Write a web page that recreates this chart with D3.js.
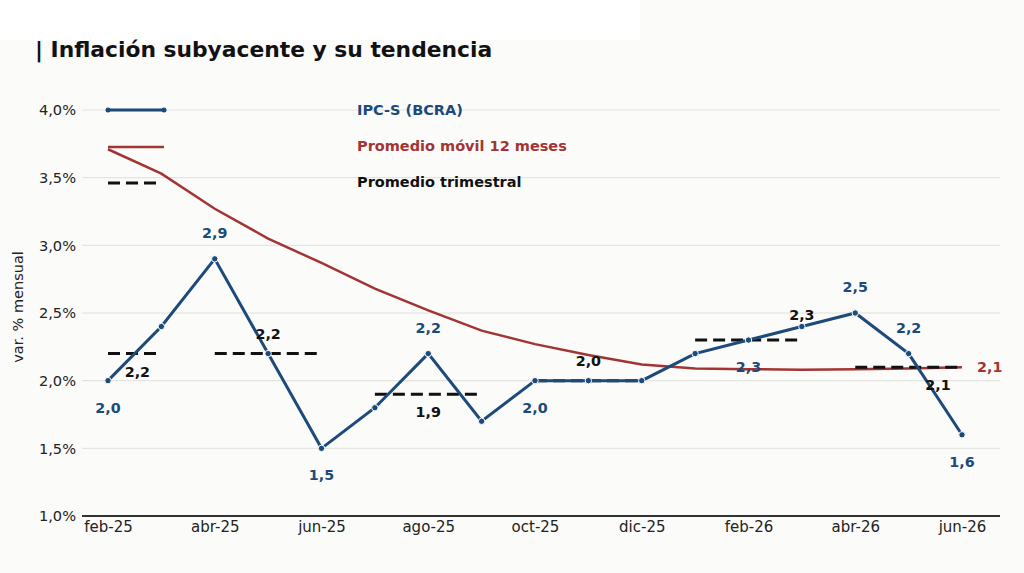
<!DOCTYPE html>
<html>
<head>
<meta charset="utf-8">
<script src="https://cdn.jsdelivr.net/npm/d3@7"></script>
<style>
  body { margin: 0; background: #fbfbf9; }
  svg { display: block; font-family: "DejaVu Sans", sans-serif; }
</style>
</head>
<body>
<svg id="chart" width="1024" height="573"></svg>
<script>
// months on the x axis
var months = ["feb-25","mar-25","abr-25","may-25","jun-25","jul-25","ago-25","sep-25","oct-25","nov-25","dic-25","ene-26","feb-26","mar-26","abr-26","may-26","jun-26"]
var tickMonths = ["feb-25","abr-25","jun-25","ago-25","oct-25","dic-25","feb-26","abr-26","jun-26"]
var yTicks = [1.0, 1.5, 2.0, 2.5, 3.0, 3.5, 4.0]

// IPC-S (BCRA), var. % mensual
var ipcs = [2.0, 2.4, 2.9, 2.2, 1.5, 1.8, 2.2, 1.7, 2.0, 2.0, 2.0, 2.2, 2.3, 2.4, 2.5, 2.2, 1.6]
// promedio movil 12 meses
var movil = [3.71, 3.53, 3.27, 3.05, 2.87, 2.68, 2.52, 2.37, 2.27, 2.19, 2.12, 2.09, 2.085, 2.08, 2.085, 2.09, 2.1]
// promedio trimestral: first and last month of each block, value
var trimStart = ["feb-25","abr-25","jul-25","oct-25","ene-26","abr-26"]
var trimEnd   = ["mar-25","jun-25","sep-25","dic-25","mar-26","jun-26"]
var trimVal   = [2.2, 2.2, 1.9, 2.0, 2.3, 2.1]

// which IPC-S points get a label, and on which side
var ipcsLabelMonths = ["feb-25","abr-25","jun-25","ago-25","oct-25","feb-26","abr-26","may-26","jun-26"]
var ipcsLabelSide   = ["below","above","below","above","below","below","above","above","below"]
// where each trimestral label is written
var trimLabelMonths = ["mar-25","may-25","ago-25","nov-25","mar-26","jun-26"]
var trimLabelSide   = ["belowleft","above","below","above","abovehigh","belowleft"]

var blue = "#1b4a7b"
var red = "#a33434"
var black = "#111111"

var svg = d3.select("#chart")
var fmt = function(v) { return d3.format(".1f")(v).replace(".", ",") }

var x = d3.scalePoint().domain(months).range([108, 962])
var y = d3.scaleLinear().domain([1, 4]).range([516, 110])

// white strip behind title
svg.append("rect").attr("x", 0).attr("y", 0).attr("width", 640).attr("height", 40).attr("fill", "#ffffff")

svg.append("text")
    .attr("x", 35).attr("y", 57)
    .style("font-size", "21.8px").style("font-weight", "bold").attr("fill", black)
    .text("| Inflación subyacente y su tendencia")

// grid
svg.append("g").selectAll("line")
    .data(yTicks.slice(1))
    .enter().append("line")
    .attr("x1", 82).attr("x2", 1000)
    .attr("y1", function(d) { return y(d) }).attr("y2", function(d) { return y(d) })
    .attr("stroke", "#e0e0dc").attr("stroke-width", 1)

// y axis
var yAxis = d3.axisLeft(y).tickValues(yTicks).tickSize(0).tickPadding(6)
    .tickFormat(function(d) { return fmt(d) + "%" })
var gy = svg.append("g").attr("transform", "translate(82,0)").call(yAxis)
gy.select(".domain").remove()
gy.selectAll("text").style("font-size", "14.6px").attr("fill", "#222").attr("font-family", "DejaVu Sans")

// x axis
var xAxis = d3.axisBottom(x).tickValues(tickMonths).tickSize(0).tickPadding(5)
var gx = svg.append("g").attr("transform", "translate(0,516)").call(xAxis)
gx.select(".domain").remove()
gx.selectAll("text").style("font-size", "15px").attr("fill", "#222").attr("font-family", "DejaVu Sans")
svg.append("line").attr("x1", 82).attr("x2", 1000).attr("y1", 516).attr("y2", 516)
    .attr("stroke", "#333").attr("stroke-width", 2)

svg.append("text")
    .attr("transform", "translate(23,307) rotate(-90)")
    .attr("text-anchor", "middle")
    .style("font-size", "14.5px").attr("fill", "#222")
    .text("var. % mensual")

// promedio movil
var line = d3.line().x(function(d, i) { return x(months[i]) }).y(function(d) { return y(d) })
svg.append("path").datum(movil)
    .attr("d", line).attr("fill", "none").attr("stroke", red).attr("stroke-width", 2.5)

// promedio trimestral
svg.append("g").selectAll("line")
    .data(trimVal)
    .enter().append("line")
    .attr("x1", function(d, i) { return x(trimStart[i]) })
    .attr("x2", function(d, i) { return x(trimEnd[i]) })
    .attr("y1", function(d) { return y(d) }).attr("y2", function(d) { return y(d) })
    .attr("stroke", black).attr("stroke-width", 3).attr("stroke-dasharray", "12,6")

// IPC-S
svg.append("path").datum(ipcs)
    .attr("d", line).attr("fill", "none").attr("stroke", blue).attr("stroke-width", 3)
svg.append("g").selectAll("circle")
    .data(ipcs)
    .enter().append("circle")
    .attr("cx", function(d, i) { return x(months[i]) })
    .attr("cy", function(d) { return y(d) })
    .attr("r", 3.2).attr("fill", blue).attr("stroke", "#ffffff").attr("stroke-width", 1)

// labels IPC-S
svg.append("g").selectAll("text")
    .data(ipcsLabelMonths)
    .enter().append("text")
    .attr("x", function(m) { return x(m) })
    .attr("y", function(m, i) {
        var v = ipcs[months.indexOf(m)]
        return ipcsLabelSide[i] == "above" ? y(v) - 21 : y(v) + 32
    })
    .attr("text-anchor", "middle")
    .style("font-size", "14.3px").style("font-weight", "bold").attr("fill", blue)
    .text(function(m) { return fmt(ipcs[months.indexOf(m)]) })

// labels trimestral
svg.append("g").selectAll("text")
    .data(trimLabelMonths)
    .enter().append("text")
    .attr("x", function(m, i) { return trimLabelSide[i] == "belowleft" ? x(m) - 24 : x(m) })
    .attr("y", function(m, i) {
        var v = trimVal[i]
        if (trimLabelSide[i] == "above") return y(v) - 15
        if (trimLabelSide[i] == "abovehigh") return y(v) - 20
        return y(v) + 23
    })
    .attr("text-anchor", "middle")
    .style("font-size", "14.3px").style("font-weight", "bold").attr("fill", black)
    .text(function(d, i) { return fmt(trimVal[i]) })

// label end of moving average
svg.append("text")
    .attr("x", 977).attr("y", y(movil[movil.length - 1]) + 5)
    .style("font-size", "14.3px").style("font-weight", "bold").attr("fill", red)
    .text(fmt(movil[movil.length - 1]))

// legend
var leg = svg.append("g")
leg.append("line").attr("x1", 108).attr("x2", 164).attr("y1", 110).attr("y2", 110)
    .attr("stroke", blue).attr("stroke-width", 3)
leg.selectAll("circle").data([108, 164]).enter().append("circle")
    .attr("cx", function(d) { return d }).attr("cy", 110).attr("r", 2.5).attr("fill", blue)
leg.append("line").attr("x1", 108).attr("x2", 162).attr("y1", 183).attr("y2", 183)
    .attr("stroke", black).attr("stroke-width", 3).attr("stroke-dasharray", "12,6")
leg.append("line").attr("x1", 108).attr("x2", 164).attr("y1", 147).attr("y2", 147)
    .attr("stroke", red).attr("stroke-width", 2.5)
var legNames = ["IPC-S (BCRA)", "Promedio móvil 12 meses", "Promedio trimestral"]
var legColors = [blue, red, black]
leg.selectAll("text").data(legNames).enter().append("text")
    .attr("x", 357).attr("y", function(d, i) { return 115 + i * 36 })
    .style("font-size", "14.5px").style("font-weight", "bold")
    .attr("fill", function(d, i) { return legColors[i] })
    .text(function(d) { return d })
</script>
</body>
</html>
